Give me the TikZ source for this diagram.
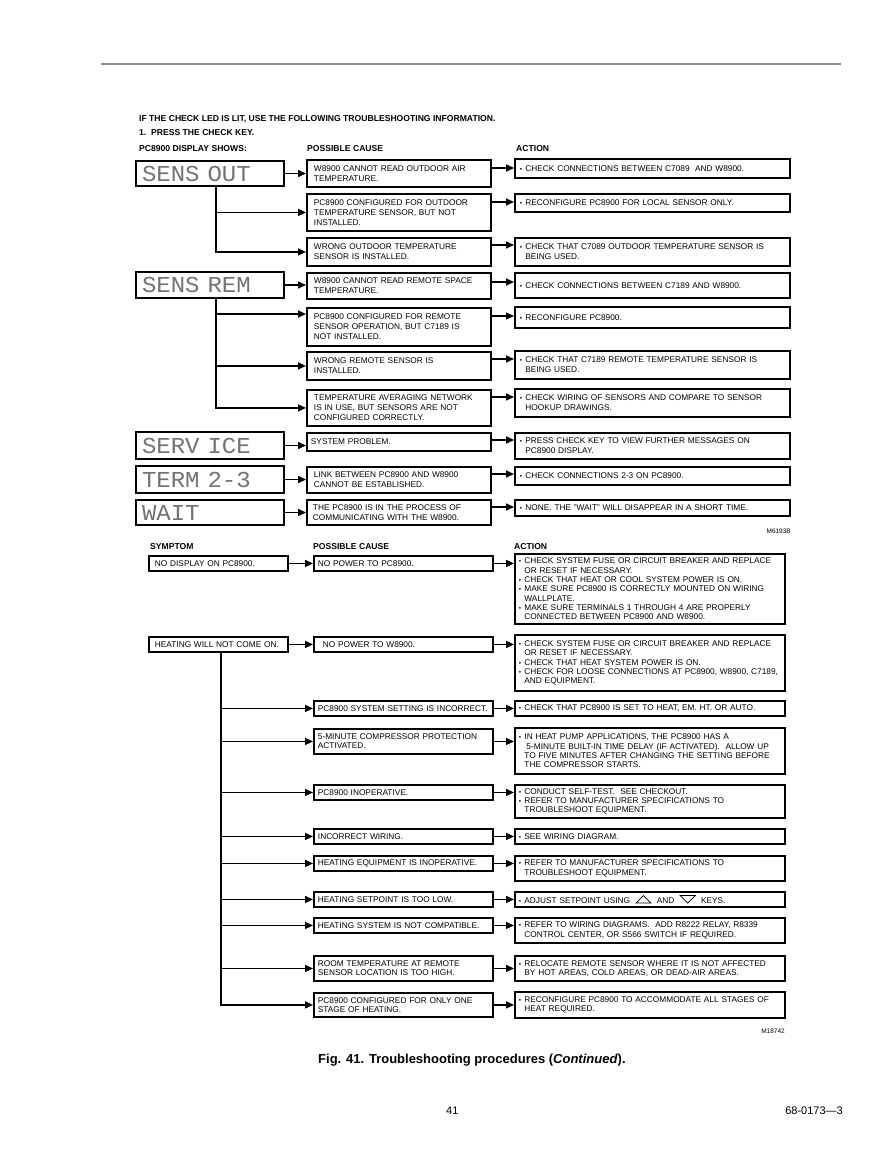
\documentclass[tikz,border=0pt]{standalone}
\usepackage{fontspec}
\usepackage{graphicx}
\setmainfont{Liberation Sans}
\newfontfamily\lcdfont{Liberation Mono}
\usetikzlibrary{arrows.meta}
\newcommand\ft{\fontsize{8.3}{10}\selectfont}
\newcommand\fbt{\fontsize{8.3}{9.3}\selectfont}
\newcommand\bul{\makebox[5.5pt][l]{\fontsize{6.5}{6.5}\selectfont•}}
\newcommand\cnt{\hspace*{5.5pt}}
\newcommand\upkey{\tikz[baseline=-0.5pt]\draw[line width=0.7pt,line join=miter] (0pt,0pt)--(15pt,0pt)--(7.5pt,7.5pt)--cycle;}
\newcommand\dnkey{\tikz[baseline=-0.5pt]\draw[line width=0.7pt,line join=miter] (0pt,7.5pt)--(15pt,7.5pt)--(7.5pt,0pt)--cycle;}
\newcommand\outlink[3]{\coordinate (#1o) at ([yshift=-#3pt]#1.north east); \draw[arr] (#1o) -- (#1o -| #2.west);}
\newcommand\lcd[1]{\scalebox{1}[0.95]{#1}}
\begin{document}
\begin{tikzpicture}[x=1pt,y=-1pt,
  arr/.style={line width=1.5pt,-{Triangle[length=8pt,width=7pt]}},
  hd/.style={anchor=base west,inner sep=0pt,font=\bfseries\fontsize{8.6}{10}\selectfont},
  bx/.style={draw,line width=1.9pt,anchor=north west,align=left,inner ysep=1pt},
  disp/.style={bx,line width=2pt,inner xsep=6pt,text width=136pt,text=black!55,font=\lcdfont\fontsize{24}{24}\selectfont},
  cb/.style={bx,inner xsep=7pt,text width=170pt,font=\ft},
  ab/.style={bx,inner xsep=5pt,text width=265pt,font=\ft},
  sb/.style={bx,inner xsep=6pt,text width=127pt,font=\fbt},
  bcb/.style={bx,inner xsep=4pt,text width=171pt,font=\fbt},
  bab/.style={bx,inner xsep=4pt,text width=262pt,font=\fbt},
  lbl/.style={inner sep=0pt,font=\fontsize{6.5}{7}\selectfont,anchor=base east}
]
\useasboundingbox (0,0) rectangle (892,1155);
\fill[white] (0,0) rectangle (892,1155);
\draw[black!45,line width=1.5pt] (101,64) -- (841,64);

% headings
\node[hd] (h1) at (139,122) {IF THE CHECK LED IS LIT, USE THE FOLLOWING TROUBLESHOOTING INFORMATION.};
\node[hd] (h2) at (139,136) {1.\ \ PRESS THE CHECK KEY.};
\node[hd] (h3) at (139,152) {PC8900 DISPLAY SHOWS:};
\node[hd] (h4) at (307,152) {POSSIBLE CAUSE};
\node[hd] (h5) at (516,152) {ACTION};

% displays
\node[disp,minimum height=25pt] (so) at (135,160) {\lcd{SENS OUT}};
\node[disp,minimum height=26pt] (sr) at (135,271) {\lcd{SENS REM}};
\node[disp,minimum height=27pt] (sv) at (135,431) {\lcd{SERV ICE}};
\node[disp,minimum height=27pt] (tm) at (135,465) {\lcd{TERM 2-3}};
\node[disp,minimum height=25pt] (wt) at (135,499) {\lcd{WAIT}};

% causes (top)
\node[cb,minimum height=27pt] (c1) at (306,159) {W8900 CANNOT READ OUTDOOR AIR\\TEMPERATURE.};
\node[cb,minimum height=37pt] (c2) at (306,193) {PC8900 CONFIGURED FOR OUTDOOR\\TEMPERATURE SENSOR, BUT NOT\\INSTALLED.};
\node[cb,minimum height=28pt] (c3) at (306,237) {WRONG OUTDOOR TEMPERATURE\\SENSOR IS INSTALLED.};
\node[cb,minimum height=26pt] (c4) at (306,272) {W8900 CANNOT READ REMOTE SPACE\\TEMPERATURE.};
\node[cb,minimum height=38pt] (c5) at (306,307) {PC8900 CONFIGURED FOR REMOTE\\SENSOR OPERATION, BUT C7189 IS\\NOT INSTALLED.};
\node[cb,minimum height=28pt] (c6) at (306,351) {WRONG REMOTE SENSOR IS\\INSTALLED.};
\node[cb,minimum height=36pt] (c7) at (306,389) {TEMPERATURE AVERAGING NETWORK\\IS IN USE, BUT SENSORS ARE NOT\\CONFIGURED CORRECTLY.};
\node[cb,minimum height=18pt,inner xsep=4pt,text width=176pt] (c8) at (306,432) {SYSTEM PROBLEM.};
\node[cb,minimum height=26pt] (c9) at (306,466) {LINK BETWEEN PC8900 AND W8900\\CANNOT BE ESTABLISHED.};
\node[cb,minimum height=25pt,inner xsep=6pt,text width=172pt] (c10) at (306,499) {\mbox{THE PC8900 IS IN THE PROCESS OF}\\\mbox{COMMUNICATING WITH THE W8900.}};

% actions (top)
\node[ab,minimum height=19pt] (a1) at (514,158) {\bul CHECK CONNECTIONS BETWEEN C7089\ \ AND W8900.};
\node[ab,minimum height=18pt] (a2) at (514,193) {\bul RECONFIGURE PC8900 FOR LOCAL SENSOR ONLY.};
\node[ab,minimum height=28pt] (a3) at (514,237) {\bul \mbox{CHECK THAT C7089 OUTDOOR TEMPERATURE SENSOR IS}\\\cnt BEING USED.};
\node[ab,minimum height=25pt] (a4) at (514,272) {\bul CHECK CONNECTIONS BETWEEN C7189 AND W8900.};
\node[ab,minimum height=21pt] (a5) at (514,306) {\bul RECONFIGURE PC8900.};
\node[ab,minimum height=28pt] (a6) at (514,350) {\bul \mbox{CHECK THAT C7189 REMOTE TEMPERATURE SENSOR IS}\\\cnt BEING USED.};
\node[ab,minimum height=28pt] (a7) at (514,388) {\bul \mbox{CHECK WIRING OF SENSORS AND COMPARE TO SENSOR}\\\cnt HOOKUP DRAWINGS.};
\node[ab,minimum height=26pt] (a8) at (514,432) {\bul \mbox{PRESS CHECK KEY TO VIEW FURTHER MESSAGES ON}\\\cnt PC8900 DISPLAY.};
\node[ab,minimum height=18pt] (a9) at (514,466) {\bul CHECK CONNECTIONS 2-3 ON PC8900.};
\node[ab,minimum height=16pt] (a10) at (514,499) {\bul \mbox{NONE. THE "WAIT" WILL DISAPPEAR IN A SHORT TIME.}};
\node[lbl] (m1) at (791,533) {M6193B};

% top connectors
\foreach \d/\c in {so/c1,sr/c4,sv/c8,tm/c9,wt/c10}{\draw[arr] (\d.east) -- (\d.east -| \c.west);}
\coordinate (t1) at (216,0);
\coordinate (c5i) at ([yshift=-7pt]c5.north west);
\draw[arr] (so.south -| t1) |- (c2.west);
\draw[arr] (so.south -| t1) |- (c3.west);
\draw[arr] (sr.south -| t1) |- (c5i);
\draw[arr] (sr.south -| t1) |- (c6.west);
\draw[arr] (sr.south -| t1) |- (c7.west);
\outlink{c1}{a1}{9}
\outlink{c2}{a2}{9}
\outlink{c3}{a3}{8}
\outlink{c4}{a4}{10}
\outlink{c5}{a5}{9}
\outlink{c6}{a6}{8}
\outlink{c7}{a7}{8}
\outlink{c8}{a8}{8}
\outlink{c9}{a9}{8}
\outlink{c10}{a10}{8}

% bottom headings
\node[hd] (h6) at (150,549) {SYMPTOM};
\node[hd] (h7) at (313,549) {POSSIBLE CAUSE};
\node[hd] (h8) at (514,549) {ACTION};

\node[sb,minimum height=15pt] (s1) at (148,555) {NO DISPLAY ON PC8900.};
\node[bcb,minimum height=15pt] (b1) at (313,555) {NO POWER TO PC8900.};
\node[bab,minimum height=70pt] (d1) at (514,553) {\bul \mbox{CHECK SYSTEM FUSE OR CIRCUIT BREAKER AND REPLACE}\\\cnt OR RESET IF NECESSARY.\\\bul \mbox{CHECK THAT HEAT OR COOL SYSTEM POWER IS ON.}\\\bul \mbox{MAKE SURE PC8900 IS CORRECTLY MOUNTED ON WIRING}\\\cnt WALLPLATE.\\\bul \mbox{MAKE SURE TERMINALS 1 THROUGH 4 ARE PROPERLY}\\\cnt \mbox{CONNECTED BETWEEN PC8900 AND W8900.}};

\node[sb,minimum height=15pt] (s2) at (148,636) {\mbox{HEATING WILL NOT COME ON.}};
\node[bcb,minimum height=15pt] (b2) at (313,636) {\hspace*{5pt}NO POWER TO W8900.};
\node[bab,minimum height=56pt] (d2) at (514,634) {\bul \mbox{CHECK SYSTEM FUSE OR CIRCUIT BREAKER AND REPLACE}\\\cnt OR RESET IF NECESSARY.\\\bul CHECK THAT HEAT SYSTEM POWER IS ON.\\\bul \mbox{CHECK FOR LOOSE CONNECTIONS AT PC8900, W8900, C7189,}\\\cnt AND EQUIPMENT.};

\node[bcb,minimum height=15pt] (p1) at (313,700) {\mbox{PC8900 SYSTEM SETTING IS INCORRECT.}};
\node[bab,minimum height=15pt] (q1) at (514,700) {\bul \mbox{CHECK THAT PC8900 IS SET TO HEAT, EM. HT. OR AUTO.}};
\node[bcb,minimum height=25pt] (p2) at (313,728) {\mbox{5-MINUTE COMPRESSOR PROTECTION}\\ACTIVATED.};
\node[bab,minimum height=46pt] (q2) at (514,727) {\bul \mbox{IN HEAT PUMP APPLICATIONS, THE PC8900 HAS A}\\\cnt\hspace*{2pt}\mbox{5-MINUTE BUILT-IN TIME DELAY (IF ACTIVATED).\ \ ALLOW UP}\\\cnt \mbox{TO FIVE MINUTES AFTER CHANGING THE SETTING BEFORE}\\\cnt THE COMPRESSOR STARTS.};
\node[bcb,minimum height=15pt] (p3) at (313,784) {PC8900 INOPERATIVE.};
\node[bab,minimum height=33pt] (q3) at (514,784) {\bul CONDUCT SELF-TEST.\ \ SEE CHECKOUT.\\\bul \mbox{REFER TO MANUFACTURER SPECIFICATIONS TO}\\\cnt TROUBLESHOOT EQUIPMENT.};
\node[bcb,minimum height=15pt] (p4) at (313,828) {INCORRECT WIRING.};
\node[bab,minimum height=15pt] (q4) at (514,828) {\bul SEE WIRING DIAGRAM.};
\node[bcb,minimum height=15pt] (p5) at (313,855) {\mbox{HEATING EQUIPMENT IS INOPERATIVE.}};
\node[bab,minimum height=25pt] (q5) at (514,855) {\bul \mbox{REFER TO MANUFACTURER SPECIFICATIONS TO}\\\cnt TROUBLESHOOT EQUIPMENT.};
\node[bcb,minimum height=15pt] (p6) at (313,891) {\mbox{HEATING SETPOINT IS TOO LOW.}};
\node[bab,minimum height=15pt] (q6) at (514,891) {\bul \mbox{ADJUST SETPOINT USING\ \ \upkey\ \ AND\ \ \dnkey\ \ KEYS.}};
\node[bcb,minimum height=15pt] (p7) at (313,917) {\mbox{HEATING SYSTEM IS NOT COMPATIBLE.}};
\node[bab,minimum height=25pt] (q7) at (514,917) {\bul \mbox{REFER TO WIRING DIAGRAMS.\ \ ADD R8222 RELAY, R8339}\\\cnt \mbox{CONTROL CENTER, OR S566 SWITCH IF REQUIRED.}};
\node[bcb,minimum height=25pt] (p8) at (313,955) {\mbox{ROOM TEMPERATURE AT REMOTE}\\\mbox{SENSOR LOCATION IS TOO HIGH.}};
\node[bab,minimum height=25pt] (q8) at (514,955) {\bul \mbox{RELOCATE REMOTE SENSOR WHERE IT IS NOT AFFECTED}\\\cnt \mbox{BY HOT AREAS, COLD AREAS, OR DEAD-AIR AREAS.}};
\node[bcb,minimum height=24pt] (p9) at (313,992) {\mbox{PC8900 CONFIGURED FOR ONLY ONE}\\STAGE OF HEATING.};
\node[bab,minimum height=26pt] (q9) at (514,991) {\bul \mbox{RECONFIGURE PC8900 TO ACCOMMODATE ALL STAGES OF}\\\cnt HEAT REQUIRED.};
\node[lbl] (m2) at (785,1033) {M18742};

% bottom connectors
\draw[arr] (s1.east) -- (s1.east -| b1.west);
\draw[arr] (b1.east) -- (b1.east -| d1.west);
\draw[arr] (s2.east) -- (s2.east -| b2.west);
\draw[arr] (b2.east) -- (b2.east -| d2.west);
\coordinate (t2) at (221,0);
\foreach \i in {1,...,9}{
  \draw[arr] (s2.south -| t2) |- (p\i.west);
  \draw[arr] (p\i.east) -- (p\i.east -| q\i.west);
}

% caption and footer
\node[anchor=base west,inner sep=0pt,font=\bfseries\fontsize{13}{15}\selectfont] (cap) at (318,1063) {Fig. 41. Troubleshooting procedures (\textit{Continued}).};
\node[anchor=base west,inner sep=0pt,font=\fontsize{11}{13}\selectfont] (pg) at (446,1114) {41};
\node[anchor=base east,inner sep=0pt,font=\fontsize{11}{13}\selectfont] (doc) at (843,1114) {68-0173—3};
\end{tikzpicture}
\end{document}
